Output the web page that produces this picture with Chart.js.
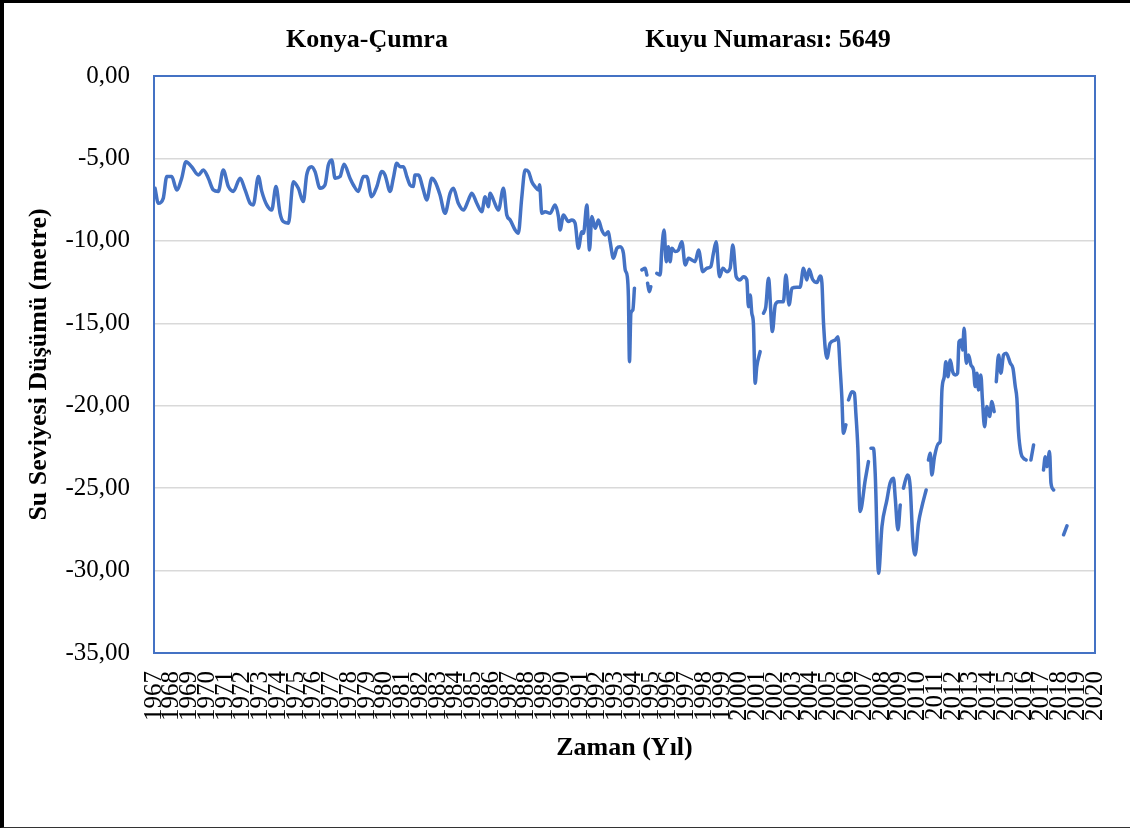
<!DOCTYPE html>
<html lang="tr">
<head>
<meta charset="UTF-8">
<title>Konya-Çumra Kuyu 5649</title>
<script src="https://cdn.jsdelivr.net/npm/chart.js"></script>
<style>
  html, body { margin: 0; padding: 0; background: #fff; overflow: hidden; }
  #wrap { position: relative; width: 1130px; height: 828px; overflow: hidden; }
  #frame {
    position: absolute; left: 0; top: 0; width: 1130px; height: 828px;
    border-left: 4px solid #000; border-top: 3px solid #000; border-bottom: 1px solid #333;
    box-sizing: border-box; pointer-events: none;
  }
</style>
</head>
<body>
<div id="wrap">
  <canvas id="chart" width="1130" height="828"></canvas>
  <div id="frame"></div>
</div>

<script>
// titles
const titleLeft = 'Konya-Çumra';
const titleRight = 'Kuyu Numarası: 5649';
const xTitle = 'Zaman (Yıl)';
const yTitle = 'Su Seviyesi Düşümü (metre)';

// axis ranges
const yearMin = 1967;
const yearMax = 2020;
const levelMin = -35;
const levelMax = 0;
const levelStep = 5;

// measurement dates (decimal year) and water level (m); null = no reading
const obsTime = [
  1967.06, 1967.24, 1967.52, 1967.72, 1968.00, 1968.28, 1968.56, 1968.80,
  1969.12, 1969.50, 1969.78, 1970.06, 1970.34, 1970.62, 1970.90, 1971.19,
  1971.47, 1971.85, 1972.13, 1972.41, 1972.59, 1972.88, 1973.07, 1973.35,
  1973.63, 1973.87, 1974.10, 1974.28, 1974.57, 1974.85, 1975.13, 1975.41,
  1975.60, 1975.88, 1976.07, 1976.35, 1976.63, 1976.82, 1977.01, 1977.20,
  1977.48, 1977.70, 1978.04, 1978.23, 1978.51, 1978.79, 1978.98, 1979.26,
  1979.55, 1979.83, 1980.01, 1980.30, 1980.48, 1980.67, 1980.86, 1981.05,
  1981.24, 1981.42, 1981.61, 1981.70, 1981.89, 1982.17, 1982.36, 1982.65,
  1982.83, 1983.11, 1983.39, 1983.68, 1983.86, 1984.14, 1984.43, 1984.71,
  1984.90, 1985.18, 1985.46, 1985.65, 1985.83, 1985.93, 1986.12, 1986.40,
  1986.68, 1986.87, 1987.06, 1987.34, 1987.52, 1987.71, 1987.90, 1988.09,
  1988.28, 1988.46, 1988.65, 1988.72, 1988.84, 1989.03, 1989.31, 1989.59,
  1989.78, 1989.87, 1990.06, 1990.34, 1990.53, 1990.72, 1990.90, 1991.10,
  1991.19, 1991.38, 1991.53, 1991.66, 1991.85, 1992.03, 1992.22, 1992.41,
  1992.59, 1992.69, 1992.88, 1993.07, 1993.25, 1993.44, 1993.54, 1993.66,
  1993.72, 1993.78, 1993.86, 1993.97, 1994.06,
  1994.30,
  1994.48, 1994.66, 1994.76,
  1994.78,
  1994.80, 1994.90, 1994.98,
  1995.15,
  1995.32, 1995.51, 1995.60, 1995.73, 1995.85, 1995.97, 1996.07, 1996.17,
  1996.35, 1996.54, 1996.73, 1996.92, 1997.10, 1997.29, 1997.48, 1997.67,
  1997.91, 1998.14, 1998.36, 1998.51, 1998.66, 1998.85, 1999.04, 1999.26,
  1999.45, 1999.60, 1999.79, 2000.01, 2000.20, 2000.39, 2000.48, 2000.58,
  2000.67, 2000.76, 2000.86, 2000.95, 2001.14,
  2001.24,
  2001.33, 2001.46, 2001.61, 2001.83, 2001.99, 2002.17, 2002.45, 2002.59,
  2002.77, 2002.93, 2003.21, 2003.39, 2003.58, 2003.77, 2003.90, 2004.09,
  2004.34, 2004.52, 2004.62, 2004.71, 2004.90, 2005.08, 2005.37, 2005.52,
  2005.65, 2005.74, 2005.83, 2005.97,
  2006.05,
  2006.12, 2006.31, 2006.45, 2006.53, 2006.64, 2006.77, 2007.06, 2007.24,
  2007.31,
  2007.38, 2007.52, 2007.62, 2007.81, 2008.00, 2008.28, 2008.46, 2008.65,
  2008.75, 2008.90, 2009.03,
  2009.12,
  2009.21, 2009.44, 2009.59, 2009.74, 2009.87, 2010.06, 2010.25, 2010.49,
  2010.55,
  2010.62, 2010.72, 2010.81, 2010.96, 2011.19, 2011.28, 2011.38, 2011.51,
  2011.60, 2011.72, 2011.85, 2011.98, 2012.13, 2012.26, 2012.34, 2012.46,
  2012.54, 2012.63, 2012.75, 2012.88, 2013.01, 2013.16, 2013.25, 2013.35,
  2013.44, 2013.57, 2013.66, 2013.78, 2013.91, 2014.06, 2014.19, 2014.32,
  2014.38,
  2014.44, 2014.57, 2014.70, 2014.85, 2015.00, 2015.23, 2015.38, 2015.51,
  2015.60, 2015.69, 2015.83, 2015.98, 2016.12,
  2016.25,
  2016.39, 2016.54,
  2016.80,
  2017.10, 2017.20, 2017.29, 2017.44, 2017.52, 2017.67,
  2017.95,
  2018.23, 2018.42
];

const waterLevel = [
  -6.81, -7.72, -7.42, -6.10, -6.10, -6.91, -6.20, -5.20,
  -5.50, -6.00, -5.70, -6.20, -6.91, -7.00, -5.70, -6.71,
  -7.00, -6.20, -6.91, -7.72, -7.82, -6.10, -7.00, -7.82,
  -8.13, -6.71, -8.33, -8.83, -8.93, -6.41, -6.81, -7.62,
  -6.00, -5.50, -5.80, -6.81, -6.61, -5.40, -5.09, -6.20,
  -6.10, -5.35, -6.20, -6.61, -7.00, -6.10, -6.10, -7.32,
  -6.71, -5.80, -6.00, -7.00, -6.20, -5.30, -5.50, -5.50,
  -6.10, -6.61, -6.71, -6.00, -6.00, -6.91, -7.52, -6.20,
  -6.41, -7.22, -8.33, -7.11, -6.81, -7.72, -8.13, -7.52,
  -7.11, -7.72, -8.23, -7.32, -7.93, -7.11, -7.52, -8.13,
  -6.81, -8.43, -8.73, -9.34, -9.54, -7.42, -5.70, -5.80,
  -6.41, -6.71, -6.91, -6.60, -8.33, -8.23, -8.33, -7.82,
  -8.53, -9.34, -8.43, -8.83, -8.73, -8.93, -10.45, -9.44,
  -9.54, -7.82, -10.55, -8.53, -9.24, -8.73, -9.34, -9.64,
  -9.44, -10.05, -11.06, -10.45, -10.35, -10.75, -11.76, -12.17,
  -13.38, -17.33, -14.39, -14.19, -12.87,
  null,
  -11.76, -11.66, -12.07,
  null,
  -12.57, -13.08, -12.78,
  null,
  -11.97, -12.07, -10.55, -9.34, -11.26, -10.35, -11.26, -10.45,
  -10.65, -10.55, -10.05, -11.46, -11.06, -11.16, -11.26, -10.55,
  -11.87, -11.66, -11.56, -10.75, -10.05, -12.17, -11.66, -11.87,
  -11.66, -10.25, -12.17, -12.37, -12.17, -12.37, -13.99, -13.28,
  -14.39, -15.00, -18.64, -17.63, -16.72,
  null,
  -14.39, -13.99, -12.27, -15.50, -13.89, -13.69, -13.69, -12.07,
  -13.89, -12.87, -12.81, -12.81, -11.66, -12.37, -11.72, -12.33,
  -12.53, -12.13, -12.57, -15.00, -17.12, -16.21, -16.01, -15.81,
  -17.83, -19.45, -21.67, -21.16,
  null,
  -19.65, -19.15, -19.24, -20.45, -22.48, -26.42, -24.50, -23.39,
  null,
  -22.58, -22.58, -24.10, -30.16, -27.33, -25.71, -24.69, -24.40,
  -25.61, -27.53, -26.02,
  null,
  -25.00, -24.20, -24.90, -28.14, -29.05, -27.13, -26.12, -25.11,
  null,
  -23.29, -22.88, -24.20, -23.09, -22.28, -22.18, -19.04, -18.24,
  -17.33, -18.24, -17.22, -17.93, -18.13, -18.03, -16.11, -16.01,
  -16.62, -15.30, -17.42, -16.92, -17.52, -17.83, -18.84, -18.03,
  -19.04, -18.13, -19.65, -21.27, -20.05, -20.66, -19.75, -20.36,
  null,
  -18.54, -16.92, -18.03, -16.92, -16.82, -17.42, -17.73, -18.84,
  -19.55, -21.57, -22.88, -23.19, -23.29,
  null,
  -23.29, -22.38,
  null,
  -23.90, -23.09, -23.70, -22.78, -24.69, -25.11,
  null,
  -27.83, -27.29
];

const serif = '"Liberation Serif", "Times New Roman", serif';

const plotDecor = {
  id: 'plotDecor',
  beforeDatasetsDraw(chart) {
    const { ctx, chartArea: a } = chart;
    ctx.save();
    ctx.strokeStyle = '#4472C4';
    ctx.lineWidth = 2;
    ctx.strokeRect(a.left, a.top, a.right - a.left, a.bottom - a.top);
    ctx.restore();
  },
  afterDraw(chart) {
    const ctx = chart.ctx;
    ctx.save();
    ctx.fillStyle = '#000';
    ctx.font = 'bold 26px ' + serif;
    ctx.textAlign = 'center';
    ctx.textBaseline = 'middle';
    ctx.fillText(titleLeft, 367, 40);
    ctx.fillText(titleRight, 768, 40);
    ctx.restore();
  }
};

const points = obsTime.map((t, i) => ({ x: t, y: waterLevel[i] }));

new Chart(document.getElementById('chart'), {
  type: 'line',
  data: {
    datasets: [{
      data: points,
      borderColor: '#4472C4',
      borderWidth: 3.5,
      pointRadius: 0,
      cubicInterpolationMode: 'monotone',
      borderJoinStyle: 'round',
      borderCapStyle: 'round',
      spanGaps: false,
      fill: false
    }]
  },
  options: {
    responsive: false,
    animation: false,
    layout: { padding: { top: 76, right: 35, left: 0, bottom: 0 } },
    plugins: { legend: { display: false }, tooltip: { enabled: false } },
    scales: {
      x: {
        type: 'linear',
        min: yearMin,
        max: yearMax,
        grid: { display: false, drawTicks: false },
        border: { display: false },
        ticks: {
          stepSize: 1,
          autoSkip: false,
          minRotation: 90,
          maxRotation: 90,
          padding: 18,
          color: '#000',
          font: { family: serif, size: 25 },
          callback: v => String(v)
        },
        title: {
          display: true,
          text: xTitle,
          color: '#000',
          font: { family: serif, size: 26, weight: 'bold' },
          padding: { top: 0, bottom: 64 }
        },
        afterFit: s => {
          s.height = 175;
          s.paddingLeft = 0;
          s.paddingRight = 0;
        }
      },
      y: {
        min: levelMin,
        max: levelMax,
        grid: { color: '#d9d9d9', lineWidth: 1.5, drawTicks: false },
        border: { display: false },
        ticks: {
          stepSize: levelStep,
          padding: 24,
          color: '#000',
          font: { family: serif, size: 25 },
          callback: v => v.toFixed(2).replace('.', ',')
        },
        title: {
          display: true,
          text: yTitle,
          color: '#000',
          font: { family: serif, size: 26, weight: 'bold' },
          padding: { top: 24, bottom: 0 }
        },
        afterFit: s => { s.width = 154; }
      }
    }
  },
  plugins: [plotDecor]
});
</script>
</body>
</html>
